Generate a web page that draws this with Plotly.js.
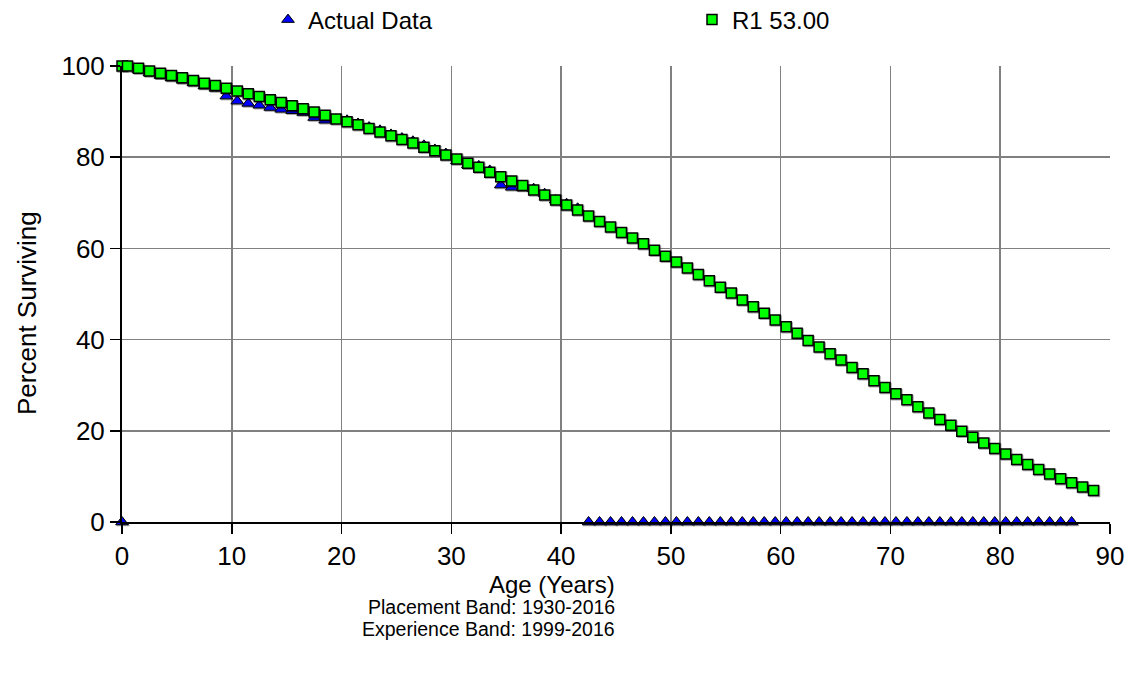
<!DOCTYPE html>
<html>
<head>
<meta charset="utf-8">
<script src="https://cdn.plot.ly/plotly-3.0.1.min.js"></script>
<style>
  html, body { margin: 0; padding: 0; background: #fff; }
  #chart { width: 1134px; height: 681px; }
  /* soft drop shadow under the plotted markers */
  #chart .scatterlayer .point { filter: drop-shadow(1.5px 1.5px 0.6px rgba(0,0,0,0.35)); }
</style>
</head>
<body>
<div id="chart"></div>
<script>
// Observed survivors by age (actual retirement data)
const actualAges = [
  0, 0.5, 1.5, 2.5, 3.5, 4.5, 5.5, 6.5, 7.5, 8.5, 9.5,
  10.5, 11.5, 12.5, 13.5, 14.5, 15.5, 16.5, 17.5, 18.5, 19.5,
  20.5, 21.5, 22.5, 23.5, 24.5, 25.5, 26.5, 27.5, 28.5, 29.5,
  30.5, 31.5, 32.5, 33.5, 34.5, 35.5, 36.5, 37.5, 38.5, 39.5,
  40.5, 41.5, 42.5, 43.5, 44.5, 45.5, 46.5, 47.5, 48.5, 49.5,
  50.5, 51.5, 52.5, 53.5, 54.5, 55.5, 56.5, 57.5, 58.5, 59.5,
  60.5, 61.5, 62.5, 63.5, 64.5, 65.5, 66.5, 67.5, 68.5, 69.5,
  70.5, 71.5, 72.5, 73.5, 74.5, 75.5, 76.5, 77.5, 78.5, 79.5,
  80.5, 81.5, 82.5, 83.5, 84.5, 85.5, 86.5
];
const actualPct = [
  0, 100, 99.2, 98.5, 97.9, 97.4, 96.9, 96.3, 95.6, 95.1, 93.4,
  92.3, 91.8, 91.4, 90.9, 90.5, 90.2, 89.8, 88.7, 88.1, 88.3,
  88.1, 87.4, 86.6, 85.9, 85.0, 84.2, 83.5, 82.6, 81.7, 80.8,
  79.2, 78.3, 78.1, 77.1, 73.9, 73.4, 73.3, 73.1, 72.0, 70.6,
  69.8, 68.8, 0, 0, 0, 0, 0, 0, 0, 0,
  0, 0, 0, 0, 0, 0, 0, 0, 0, 0,
  0, 0, 0, 0, 0, 0, 0, 0, 0, 0,
  0, 0, 0, 0, 0, 0, 0, 0, 0, 0,
  0, 0, 0, 0, 0, 0, 0
];

// Iowa R1 curve, 53.00 year average life
const curveAges = [
  0, 0.5, 1.5, 2.5, 3.5, 4.5, 5.5, 6.5, 7.5, 8.5, 9.5,
  10.5, 11.5, 12.5, 13.5, 14.5, 15.5, 16.5, 17.5, 18.5, 19.5,
  20.5, 21.5, 22.5, 23.5, 24.5, 25.5, 26.5, 27.5, 28.5, 29.5,
  30.5, 31.5, 32.5, 33.5, 34.5, 35.5, 36.5, 37.5, 38.5, 39.5,
  40.5, 41.5, 42.5, 43.5, 44.5, 45.5, 46.5, 47.5, 48.5, 49.5,
  50.5, 51.5, 52.5, 53.5, 54.5, 55.5, 56.5, 57.5, 58.5, 59.5,
  60.5, 61.5, 62.5, 63.5, 64.5, 65.5, 66.5, 67.5, 68.5, 69.5,
  70.5, 71.5, 72.5, 73.5, 74.5, 75.5, 76.5, 77.5, 78.5, 79.5,
  80.5, 81.5, 82.5, 83.5, 84.5, 85.5, 86.5, 87.5, 88.5
];
const curvePct = [
  100, 100, 99.5, 98.9, 98.4, 97.9, 97.4, 96.8, 96.2, 95.7, 95.1,
  94.5, 93.9, 93.3, 92.6, 92.0, 91.3, 90.6, 89.9, 89.2, 88.4,
  87.8, 87.1, 86.3, 85.5, 84.7, 83.9, 83.1, 82.2, 81.4, 80.5,
  79.6, 78.7, 77.8, 76.7, 75.7, 74.8, 73.8, 72.8, 71.7, 70.6,
  69.5, 68.4, 67.1, 65.9, 64.7, 63.5, 62.3, 61.0, 59.6, 58.3,
  57.0, 55.7, 54.3, 52.9, 51.5, 50.2, 48.7, 47.2, 45.8, 44.3,
  42.8, 41.4, 39.8, 38.4, 36.9, 35.5, 33.9, 32.5, 31.0, 29.5,
  28.1, 26.8, 25.3, 23.9, 22.5, 21.2, 19.9, 18.6, 17.3, 16.1,
  14.9, 13.7, 12.6, 11.5, 10.5, 9.5, 8.6, 7.7, 6.9
];

const seriesNames = ['Actual Data', 'R1 53.00'];
const xTitle = 'Age (Years)';
const bandLines = ['Placement Band: 1930-2016', 'Experience Band: 1999-2016'];
const yTitle = 'Percent Surviving';

const FONT = '"Liberation Sans", Arial, sans-serif';

const traces = [
  {
    x: actualAges, y: actualPct, name: seriesNames[0],
    type: 'scatter', mode: 'markers', cliponaxis: false,
    legend: 'legend',
    marker: { symbol: 'triangle-up', size: 11, color: '#0000ff', line: { color: '#000', width: 1 } }
  },
  {
    x: curveAges, y: curvePct, name: seriesNames[1],
    type: 'scatter', mode: 'markers', cliponaxis: false,
    legend: 'legend2',
    marker: { symbol: 'square', size: 10, color: '#00ff00', line: { color: '#000', width: 1.5 } }
  }
];

const axisCommon = {
  showline: true, linecolor: '#000', linewidth: 2,
  showgrid: true, gridcolor: '#808080', gridwidth: 1.5,
  zeroline: false,
  ticks: 'outside', ticklen: 10, tickwidth: 1.5, tickcolor: '#000',
  tickfont: { family: FONT, size: 26, color: '#000' },
  fixedrange: true
};

const legendCommon = {
  orientation: 'h', xref: 'paper', yref: 'container',
  yanchor: 'middle', y: 1 - 20 / 681,
  bgcolor: 'rgba(0,0,0,0)', borderwidth: 0, itemwidth: 30,
  font: { family: FONT, size: 24, color: '#000' }
};

// pixel helpers for the text placed below the plot (plot area spans 122..1110, 66..522)
const px = x => (x - 122) / 988;
const py = y => (522 - y) / 456;

const layout = {
  width: 1134, height: 681,
  margin: { l: 122, r: 24, t: 66, b: 159 },
  paper_bgcolor: '#fff', plot_bgcolor: '#fff',
  font: { family: FONT, color: '#000' },
  xaxis: Object.assign({}, axisCommon, { range: [0, 90], dtick: 10, tick0: 0 }),
  yaxis: Object.assign({}, axisCommon, { range: [0, 100], dtick: 20, tick0: 0 }),
  // companion axes carry the inner half of the tick marks
  xaxis2: { overlaying: 'x', anchor: 'y', range: [0, 90], dtick: 10, ticks: 'inside', ticklen: 10,
            tickwidth: 1.5, tickcolor: '#000', showticklabels: false, showgrid: false,
            showline: false, zeroline: false, fixedrange: true },
  yaxis2: { overlaying: 'y', anchor: 'x', range: [0, 100], dtick: 20, ticks: 'inside', ticklen: 10,
            tickwidth: 1.5, tickcolor: '#000', showticklabels: false, showgrid: false,
            showline: false, zeroline: false, fixedrange: true },
  showlegend: true,
  legend: Object.assign({}, legendCommon, { x: px(268), xanchor: 'left' }),
  legend2: Object.assign({}, legendCommon, { x: px(692), xanchor: 'left' }),
  annotations: [
    {
      xref: 'paper', yref: 'paper', x: px(617), y: py(584),
      xanchor: 'right', yanchor: 'middle', showarrow: false,
      text: xTitle, font: { family: FONT, size: 24, color: '#000' }
    },
    {
      xref: 'paper', yref: 'paper', x: px(617), y: py(607),
      xanchor: 'right', yanchor: 'middle', showarrow: false,
      text: bandLines[0], font: { family: FONT, size: 19.5, color: '#000' }
    },
    {
      xref: 'paper', yref: 'paper', x: px(617), y: py(629),
      xanchor: 'right', yanchor: 'middle', showarrow: false,
      text: bandLines[1], font: { family: FONT, size: 19.5, color: '#000' }
    },
    {
      xref: 'paper', yref: 'paper', x: px(27), y: py(313),
      xanchor: 'center', yanchor: 'middle', showarrow: false, textangle: -90,
      text: yTitle, font: { family: FONT, size: 26, color: '#000' }
    }
  ]
};

Plotly.newPlot('chart', traces, layout, { displayModeBar: false, staticPlot: true });
</script>
</body>
</html>
